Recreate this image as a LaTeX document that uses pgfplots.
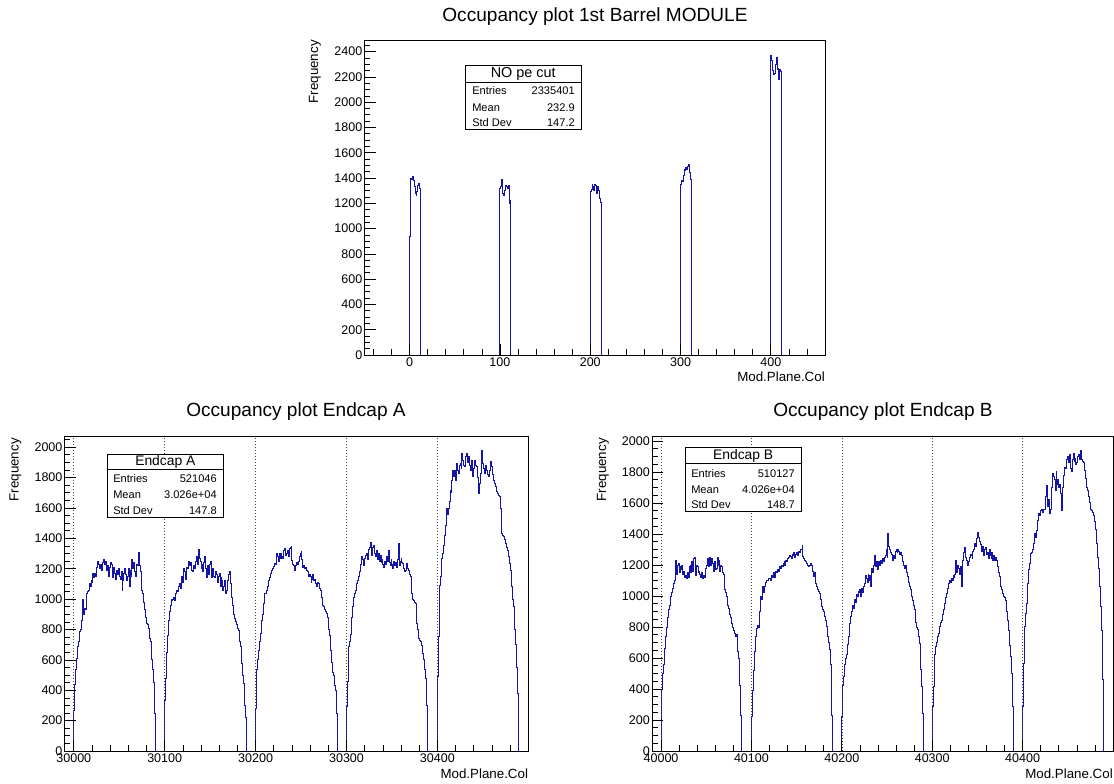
\documentclass[border=0pt]{standalone}
\usepackage{fontspec}
\setmainfont{Liberation Sans}
\usepackage{pgfplots}
\pgfplotsset{compat=1.18}
\definecolor{histblue}{RGB}{20,20,165}
\pgfplotsset{
  rootaxis/.style={
    scale only axis,
    anchor=south west,
    axis on top,
    axis line style={black, line width=0.6pt},
    tick align=inside,
    xtick pos=left, ytick pos=left,
    major tick length=8.5pt,
    minor tick length=4.3pt,
    tick style={black, line width=0.5pt},
    tick label style={font=\fontsize{9.4}{11}\selectfont},
    /pgf/number format/assume math mode=true,
    /pgf/number format/1000 sep={},
    scaled ticks=false,
    xticklabel style={inner sep=1.5pt},
    yticklabel style={inner sep=1.5pt},
  },
  hist/.style={const plot, color=histblue, line width=0.7pt, mark=none},
  rootgrid/.style={xmajorgrids, major grid style={black!75, line width=0.45pt, dash pattern=on 0.75pt off 1.5pt}},
}
\newcommand{\statfont}{\fontsize{8.3}{10}\selectfont}
\begin{document}
\begin{tikzpicture}
\useasboundingbox (0,0) rectangle (835.5pt,588pt);
% ---------------- top: barrel
\begin{axis}[rootaxis, at={(273.375pt,321.75pt)}, width=345.375pt, height=235.875pt,
  xmin=-50, xmax=460, ymin=0, ymax=2488,
  xtick={0,100,200,300,400}, minor xtick={-40,-20,...,460},
  ytick={0,200,...,2400}, minor ytick={50,100,...,2450}]
\addplot[hist] coordinates {
(-50,0) (0,934) (1,1395) (2,1390) (3,1410) (4,1380) (5,1330) (6,1280) (7,1263) (8,1290) (9,1340) (10,1360) (11,1320) (12,0)
(100,1320) (101,1330) (102,1390) (103,1280) (104,1260) (105,1300) (106,1340) (107,1330) (108,1320) (109,1340) (110,1200) (111,1220) (112,0)
(200,1290) (201,1310) (202,1350) (203,1330) (204,1300) (205,1350) (206,1340) (207,1280) (208,1330) (209,1300) (210,1240) (211,1210) (212,0)
(300,1350) (301,1380) (302,1370) (303,1420) (304,1470) (305,1460) (306,1480) (307,1470) (308,1490) (309,1510) (310,1440) (311,1390) (312,0)
(400,2370) (401,2330) (402,2250) (403,2220) (404,2230) (405,2300) (406,2350) (407,2260) (408,2270) (409,2180) (410,2260) (411,2240) (412,0)
(460,0)};
\end{axis}
% ---------------- bottom left: Endcap A
\begin{axis}[rootaxis, rootgrid, at={(48.525pt,24.75pt)}, width=347.7pt, height=236.25pt,
  xmin=29990, xmax=30500, ymin=0, ymax=2074,
  xtick={30000,30100,30200,30300,30400}, minor xtick={30020,30040,...,30480},
  ytick={0,200,...,2000}, minor ytick={50,100,...,2050}]
\addplot[hist] table[row sep=\\, x expr=\coordindex+29990, y index=0]{
y\\
0\\0\\0\\0\\0\\0\\0\\0\\0\\0\\
270\\440\\540\\610\\690\\720\\790\\800\\860\\900\\
1000\\900\\940\\930\\1040\\1050\\1060\\1100\\1080\\1120\\
1110\\1170\\1140\\1170\\1150\\1210\\1250\\1230\\1200\\1230\\
1190\\1210\\1240\\1260\\1230\\1250\\1190\\1220\\1150\\1210\\
1240\\1230\\1200\\1140\\1210\\1170\\1130\\1190\\1160\\1200\\
1150\\1130\\1180\\1060\\1120\\1170\\1200\\1160\\1120\\1150\\
1200\\1080\\1190\\1150\\1260\\1200\\1240\\1180\\1150\\1230\\
1220\\1310\\1220\\1180\\1080\\1060\\1040\\980\\930\\880\\
840\\830\\810\\740\\720\\640\\600\\540\\450\\250\\
0\\0\\0\\0\\0\\0\\0\\0\\0\\0\\
330\\480\\650\\760\\860\\920\\960\\1000\\990\\1000\\
1010\\990\\1040\\1060\\1050\\1080\\1100\\1070\\1130\\1150\\
1110\\1200\\1180\\1130\\1210\\1200\\1250\\1220\\1240\\1200\\
1190\\1180\\1220\\1200\\1250\\1280\\1230\\1330\\1270\\1250\\
1200\\1230\\1180\\1240\\1280\\1200\\1140\\1220\\1160\\1230\\
1250\\1180\\1140\\1200\\1150\\1140\\1180\\1160\\1110\\1150\\
1170\\1080\\1140\\1120\\1060\\1080\\1120\\1040\\1060\\1120\\
1160\\1180\\1100\\1040\\1010\\960\\900\\870\\850\\830\\
810\\796\\720\\686\\620\\577\\500\\445\\300\\220\\
0\\0\\0\\0\\0\\0\\0\\0\\0\\0\\
280\\540\\600\\660\\720\\772\\800\\862\\900\\970\\
1037\\1040\\1059\\1080\\1125\\1140\\1169\\1180\\1191\\1200\\
1213\\1235\\1230\\1300\\1280\\1250\\1300\\1270\\1300\\1280\\
1270\\1320\\1333\\1290\\1300\\1320\\1280\\1333\\1340\\1344\\
1257\\1230\\1220\\1191\\1220\\1240\\1230\\1250\\1280\\1300\\
1311\\1260\\1210\\1220\\1200\\1210\\1190\\1180\\1150\\1160\\
1150\\1110\\1130\\1160\\1120\\1130\\1100\\1080\\1110\\1100\\
1070\\1060\\1040\\1010\\960\\950\\930\\920\\905\\880\\
800\\760\\660\\620\\580\\520\\500\\430\\400\\250\\
0\\0\\0\\0\\0\\0\\0\\0\\0\\0\\
290\\460\\690\\720\\770\\820\\880\\950\\1010\\1040\\
1060\\1100\\1120\\1150\\1180\\1230\\1250\\1280\\1260\\1220\\
1270\\1290\\1300\\1260\\1330\\1340\\1370\\1320\\1290\\1340\\
1350\\1300\\1280\\1320\\1260\\1300\\1250\\1290\\1240\\1260\\
1230\\1210\\1250\\1230\\1280\\1250\\1320\\1240\\1220\\1260\\
1230\\1200\\1250\\1220\\1240\\1210\\1260\\1366\\1220\\1250\\
1268\\1240\\1235\\1200\\1180\\1190\\1235\\1200\\1191\\1160\\
1147\\1100\\1037\\1000\\990\\975\\972\\840\\800\\741\\
730\\720\\710\\697\\640\\600\\540\\480\\300\\0\\
0\\0\\0\\0\\0\\0\\0\\0\\0\\0\\
489\\752\\1092\\1150\\1200\\1268\\1300\\1355\\1420\\1487\\
1597\\1560\\1600\\1640\\1717\\1700\\1783\\1849\\1805\\1849\\
1780\\1893\\1850\\1827\\1880\\1893\\1860\\1958\\1915\\1880\\
1871\\1940\\1958\\1900\\1937\\1880\\1849\\1900\\1915\\1805\\
1860\\1915\\1880\\1871\\1800\\1695\\1760\\1827\\1900\\1980\\
1893\\1860\\1827\\1880\\1849\\1820\\1805\\1850\\1904\\1880\\
1871\\1820\\1783\\1760\\1739\\1710\\1695\\1680\\1673\\1600\\
1542\\1430\\1420\\1410\\1390\\1366\\1340\\1322\\1280\\1235\\
1191\\1130\\1081\\1000\\950\\800\\700\\550\\380\\0\\
0\\0\\0\\0\\0\\0\\0\\0\\0\\0\\0\\
};
\end{axis}
% ---------------- bottom right: Endcap B
\begin{axis}[rootaxis, rootgrid, at={(489pt,24.75pt)}, width=345.75pt, height=236.25pt,
  xmin=39990, xmax=40500, ymin=0, ymax=2032,
  xtick={40000,40100,40200,40300,40400}, minor xtick={40020,40040,...,40480},
  ytick={0,200,...,2000}, minor ytick={50,100,...,2000}]
\addplot[hist] table[row sep=\\, x expr=\coordindex+39990, y index=0]{
y\\
0\\0\\0\\0\\0\\0\\0\\0\\0\\0\\
230\\400\\500\\560\\660\\740\\800\\860\\910\\940\\
1000\\1010\\1020\\1050\\1080\\1100\\1230\\1140\\1200\\1210\\
1150\\1190\\1170\\1200\\1140\\1160\\1120\\1130\\1110\\1150\\
1120\\1190\\1200\\1150\\1220\\1160\\1240\\1250\\1130\\1200\\
1190\\1150\\1160\\1140\\1120\\1150\\1110\\1130\\1120\\1180\\
1200\\1240\\1210\\1190\\1250\\1200\\1240\\1210\\1160\\1220\\
1170\\1180\\1250\\1200\\1230\\1160\\1200\\1190\\1150\\1140\\
1040\\1020\\1000\\960\\940\\920\\880\\860\\820\\800\\
780\\760\\740\\750\\700\\640\\600\\420\\230\\0\\
0\\0\\0\\0\\0\\0\\0\\0\\0\\0\\
220\\390\\520\\640\\700\\740\\790\\810\\800\\900\\
996\\980\\1060\\1020\\1060\\1070\\1090\\1100\\1103\\1110\\
1110\\1100\\1130\\1120\\1150\\1140\\1120\\1160\\1150\\1170\\
1160\\1190\\1180\\1200\\1190\\1210\\1220\\1200\\1230\\1220\\
1240\\1250\\1260\\1254\\1240\\1270\\1260\\1280\\1250\\1270\\
1280\\1260\\1290\\1280\\1300\\1297\\1329\\1254\\1240\\1230\\
1220\\1211\\1200\\1189\\1200\\1210\\1200\\1189\\1160\\1125\\
1150\\1080\\1060\\1040\\1030\\1017\\980\\960\\931\\910\\
900\\870\\840\\802\\740\\700\\652\\560\\437\\230\\
0\\0\\0\\0\\0\\0\\0\\0\\0\\0\\
220\\420\\480\\560\\600\\620\\690\\740\\790\\820\\
870\\900\\940\\920\\980\\960\\1010\\1000\\1030\\1020\\
1040\\1000\\1050\\1020\\1060\\1080\\1130\\1110\\1090\\1140\\
1100\\1130\\1060\\1180\\1150\\1200\\1260\\1190\\1220\\1170\\
1210\\1220\\1200\\1230\\1210\\1240\\1220\\1250\\1260\\1300\\
1250\\1400\\1320\\1300\\1280\\1270\\1230\\1260\\1240\\1290\\
1300\\1280\\1300\\1290\\1270\\1280\\1260\\1220\\1200\\1180\\
1200\\1189\\1150\\1125\\1090\\1060\\1040\\1000\\974\\940\\
910\\870\\830\\800\\781\\740\\695\\523\\415\\243\\
0\\0\\0\\0\\0\\0\\0\\0\\0\\0\\
290\\415\\587\\620\\673\\700\\738\\760\\802\\830\\
845\\880\\910\\930\\953\\990\\1017\\1050\\1082\\1100\\
1090\\1110\\1100\\1130\\1120\\1140\\1230\\1150\\1200\\1180\\
1140\\1190\\1060\\1210\\1230\\1280\\1310\\1250\\1230\\1200\\
1220\\1250\\1270\\1260\\1240\\1290\\1300\\1340\\1320\\1370\\
1410\\1380\\1350\\1330\\1300\\1290\\1320\\1260\\1300\\1310\\
1270\\1280\\1240\\1300\\1260\\1240\\1280\\1230\\1260\\1230\\
1250\\1230\\1189\\1150\\1125\\1090\\1060\\1040\\1017\\1000\\
990\\974\\900\\845\\780\\738\\680\\609\\501\\286\\
0\\0\\0\\0\\0\\0\\0\\0\\0\\0\\
286\\566\\802\\888\\950\\1082\\1120\\1168\\1211\\1275\\
1280\\1300\\1340\\1400\\1380\\1420\\1490\\1510\\1530\\1520\\
1550\\1560\\1540\\1560\\1560\\1640\\1710\\1690\\1580\\1620\\
1530\\1560\\1700\\1790\\1770\\1750\\1680\\1800\\1720\\1750\\
1700\\1720\\1660\\1550\\1700\\1780\\1830\\1820\\1840\\1880\\
1900\\1860\\1910\\1820\\1800\\1880\\1920\\1870\\1890\\1850\\
1860\\1900\\1910\\1880\\1940\\1880\\1870\\1860\\1810\\1780\\
1760\\1700\\1680\\1640\\1600\\1560\\1550\\1540\\1520\\1510\\
1480\\1430\\1340\\1250\\1180\\1060\\930\\780\\460\\240\\
0\\0\\0\\0\\0\\0\\0\\0\\0\\0\\0\\
};
\end{axis}
% ---------------- titles
\node[anchor=base, font=\fontsize{14.3}{16}\selectfont] at (446.25pt,571.5pt) {Occupancy plot 1st Barrel MODULE};
\node[anchor=base, font=\fontsize{14.3}{16}\selectfont] at (222pt,275.25pt) {Occupancy plot Endcap A};
\node[anchor=base, font=\fontsize{14.3}{16}\selectfont] at (662.25pt,275.25pt) {Occupancy plot Endcap B};
% ---------------- axis titles
\node[rotate=90, anchor=east, inner sep=0pt, font=\fontsize{10}{12}\selectfont] at (236.25pt,558pt) {Frequency};
\node[rotate=90, anchor=east, inner sep=0pt, font=\fontsize{10}{12}\selectfont] at (11.6pt,259.5pt) {Frequency};
\node[rotate=90, anchor=east, inner sep=0pt, font=\fontsize{10}{12}\selectfont] at (452.25pt,259.5pt) {Frequency};
\node[anchor=base east, inner sep=0pt, font=\fontsize{10}{12}\selectfont] at (618.75pt,301.5pt) {Mod.Plane.Col};
\node[anchor=base east, inner sep=0pt, font=\fontsize{10}{12}\selectfont] at (396.2pt,3.75pt) {Mod.Plane.Col};
\node[anchor=base east, inner sep=0pt, font=\fontsize{10}{12}\selectfont] at (834.75pt,3.75pt) {Mod.Plane.Col};
% ---------------- stats boxes
\draw[fill=white, line width=0.6pt] (348.75pt,491.25pt) rectangle (436.125pt,539.25pt);
\draw[line width=0.5pt] (348.75pt,526pt) -- (436.125pt,526pt);
\node[font=\fontsize{10.8}{12}\selectfont, inner sep=0pt] at (392.44pt,532.6pt) {NO pe cut};
\node[anchor=mid west, font=\statfont, inner sep=0pt] at (354pt,519.5pt) {Entries};
\node[anchor=mid east, font=\statfont, inner sep=0pt] at (431.25pt,519.5pt) {2335401};
\node[anchor=mid west, font=\statfont, inner sep=0pt] at (354pt,507.2pt) {Mean};
\node[anchor=mid east, font=\statfont, inner sep=0pt] at (431.25pt,507.2pt) {232.9};
\node[anchor=mid west, font=\statfont, inner sep=0pt] at (354pt,495.7pt) {Std Dev};
\node[anchor=mid east, font=\statfont, inner sep=0pt] at (431.25pt,495.7pt) {147.2};

\draw[fill=white, line width=0.6pt] (80.775pt,200.025pt) rectangle (167.25pt,247.275pt);
\draw[line width=0.5pt] (80.775pt,236.25pt) -- (167.25pt,236.25pt);
\node[font=\fontsize{10.4}{12}\selectfont, inner sep=0pt] at (124pt,241.5pt) {Endcap A};
\node[anchor=mid west, font=\statfont, inner sep=0pt] at (84.75pt,228.4pt) {Entries};
\node[anchor=mid east, font=\statfont, inner sep=0pt] at (162.75pt,228.4pt) {521046};
\node[anchor=mid west, font=\statfont, inner sep=0pt] at (84.75pt,216.4pt) {Mean};
\node[anchor=mid east, font=\statfont, inner sep=0pt] at (162.75pt,216.4pt) {3.026e+04};
\node[anchor=mid west, font=\statfont, inner sep=0pt] at (84.75pt,204.4pt) {Std Dev};
\node[anchor=mid east, font=\statfont, inner sep=0pt] at (162.75pt,204.4pt) {147.8};

\draw[fill=white, line width=0.6pt] (513.975pt,204.75pt) rectangle (600.75pt,252.225pt);
\draw[line width=0.5pt] (513.975pt,240.525pt) -- (600.75pt,240.525pt);
\node[font=\fontsize{10.4}{12}\selectfont, inner sep=0pt] at (557.36pt,246.2pt) {Endcap B};
\node[anchor=mid west, font=\statfont, inner sep=0pt] at (518.25pt,232.7pt) {Entries};
\node[anchor=mid east, font=\statfont, inner sep=0pt] at (596.25pt,232.7pt) {510127};
\node[anchor=mid west, font=\statfont, inner sep=0pt] at (518.25pt,220.7pt) {Mean};
\node[anchor=mid east, font=\statfont, inner sep=0pt] at (596.25pt,220.7pt) {4.026e+04};
\node[anchor=mid west, font=\statfont, inner sep=0pt] at (518.25pt,209pt) {Std Dev};
\node[anchor=mid east, font=\statfont, inner sep=0pt] at (596.25pt,209pt) {148.7};
\end{tikzpicture}
\end{document}
